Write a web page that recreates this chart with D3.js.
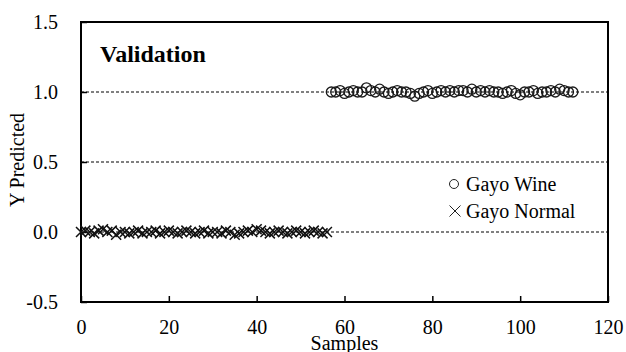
<!DOCTYPE html>
<html>
<head>
<meta charset="utf-8">
<script src="https://cdn.jsdelivr.net/npm/d3@7"></script>
<style>
  body { margin: 0; background: #fff; }
  text { font-family: "Liberation Serif", "Times New Roman", serif; fill: #000; }
</style>
</head>
<body>
<div id="chart-area"></div>
<script>
// Gayo Wine samples (circles), x = 57..112
let wineX = d3.range(57, 113)
let wineY = [
  1.00, 1.00, 1.01, 0.99, 1.00, 1.01, 1.00, 1.00, 1.03, 1.01,
  1.00, 1.02, 1.00, 0.99, 1.00, 1.01, 1.00, 1.00, 0.99, 0.97,
  0.99, 1.00, 1.01, 0.99, 1.00, 1.01, 1.00, 1.01, 1.00, 1.01,
  1.01, 1.00, 1.02, 1.00, 1.01, 1.00, 1.01, 1.00, 1.00, 0.99,
  1.00, 1.01, 0.99, 0.98, 1.00, 1.00, 1.01, 0.99, 1.00, 1.00,
  1.01, 1.00, 1.02, 1.01, 1.00, 1.00
]

// Gayo Normal samples (crosses), x = 0..56
let normalX = d3.range(0, 57)
let normalY = [
  0.00, 0.01, 0.00, -0.01, 0.01, 0.02, 0.00, 0.01, -0.02, 0.00,
  0.00, -0.01, 0.00, 0.01, -0.01, 0.00, 0.00, 0.01, -0.01, 0.00,
  0.01, 0.00, -0.01, 0.00, 0.01, 0.00, -0.01, 0.00, 0.01, -0.01,
  0.00, 0.00, -0.01, 0.01, 0.00, -0.02, -0.01, 0.00, 0.01, 0.00,
  0.02, 0.01, 0.00, -0.01, 0.00, 0.01, 0.00, -0.01, 0.00, 0.01,
  0.00, -0.01, 0.00, 0.01, 0.00, -0.01, 0.00
]

let xTicks = [0, 20, 40, 60, 80, 100, 120]
let yTicks = [-0.5, 0, 0.5, 1.0, 1.5]
let gridVals = [0, 0.5, 1.0]

let serif = '"Liberation Serif", "Times New Roman", serif'

let margin = { left: 81, right: 18, top: 22, bottom: 50 }
let svgW = 626
let svgH = 352
let chartW = svgW - margin.left - margin.right
let chartH = svgH - margin.top - margin.bottom

let x = d3.scaleLinear().domain([0, 120]).range([0, chartW])
let y = d3.scaleLinear().domain([-0.5, 1.5]).range([chartH, 0])

let svg = d3.select("#chart-area")
  .append("svg")
  .attr("width", svgW)
  .attr("height", svgH)
  .style("font-family", serif)

let group = svg.append("g")
  .attr("transform", `translate(${margin.left},${margin.top})`)

// dashed gridlines
group.selectAll(".grid")
  .data(gridVals)
  .enter()
  .append("line")
  .attr("x1", 0)
  .attr("x2", chartW)
  .attr("y1", d => y(d))
  .attr("y2", d => y(d))
  .attr("stroke", "#000")
  .attr("stroke-width", 1)
  .attr("stroke-dasharray", "3,2")

// axes, ticks pointing inward
let xAxis = d3.axisBottom(x).tickValues(xTicks).tickFormat(d3.format("d"))
  .tickSizeInner(-6).tickSizeOuter(0).tickPadding(18)
let yAxis = d3.axisLeft(y).tickValues(yTicks).tickFormat(d3.format(".1f"))
  .tickSizeInner(-6).tickSizeOuter(0).tickPadding(23)

let groupX = group.append("g")
  .attr("transform", `translate(0,${chartH})`)
  .call(xAxis)
let groupY = group.append("g").call(yAxis)

;[groupX, groupY].forEach(g => {
  g.attr("font-family", null).attr("font-size", null)
  g.select(".domain").remove()
  g.selectAll("line").attr("stroke", "#000").attr("stroke-width", 1.5)
  g.selectAll("text").style("font-size", "20px").attr("fill", "#000")
    .style("font-family", serif)
})
groupY.selectAll("text").text(d => d.toFixed(1))

// frame
group.append("rect")
  .attr("x", 0)
  .attr("y", 0)
  .attr("width", chartW)
  .attr("height", chartH)
  .attr("fill", "none")
  .attr("stroke", "#000")
  .attr("stroke-width", 2)

// crosses
let cs = 5
let cross = `M${-cs},${-cs}L${cs},${cs}M${-cs},${cs}L${cs},${-cs}`
group.selectAll(".cross")
  .data(normalX.map((d, i) => ({ x: d, y: normalY[i] })))
  .enter()
  .append("path")
  .attr("d", cross)
  .attr("transform", d => `translate(${x(d.x)},${y(d.y)})`)
  .attr("fill", "none")
  .attr("stroke", "#111")
  .attr("stroke-width", 1.5)

// circles
group.selectAll(".circ")
  .data(wineX.map((d, i) => ({ x: d, y: wineY[i] })))
  .enter()
  .append("circle")
  .attr("cx", d => x(d.x))
  .attr("cy", d => y(d.y))
  .attr("r", 5)
  .attr("fill", "none")
  .attr("stroke", "#1a1a1a")
  .attr("stroke-width", 1.3)

// title inside plot
svg.append("text")
  .attr("x", 100)
  .attr("y", 62)
  .style("font-size", "24px")
  .style("font-weight", "bold")
  .text("Validation")

// legend
svg.append("circle")
  .attr("cx", 454).attr("cy", 184).attr("r", 4.5)
  .attr("fill", "none").attr("stroke", "#222").attr("stroke-width", 1)
svg.append("text").attr("x", 466).attr("y", 190.5)
  .style("font-size", "20px").text("Gayo Wine")
svg.append("path")
  .attr("d", `M-5.5,-5.5L5.5,5.5M-5.5,5.5L5.5,-5.5`)
  .attr("transform", "translate(455,211)")
  .attr("fill", "none").attr("stroke", "#222").attr("stroke-width", 1)
svg.append("text").attr("x", 466).attr("y", 217.5)
  .style("font-size", "20px").text("Gayo Normal")

// axis titles
svg.append("text")
  .attr("x", margin.left + chartW / 2)
  .attr("y", 350)
  .attr("text-anchor", "middle")
  .style("font-size", "20px")
  .text("Samples")

svg.append("text")
  .attr("transform", `translate(24,${margin.top + chartH / 2 - 2}) rotate(-90)`)
  .attr("text-anchor", "middle")
  .style("font-size", "20px")
  .text("Y Predicted")
</script>
</body>
</html>
